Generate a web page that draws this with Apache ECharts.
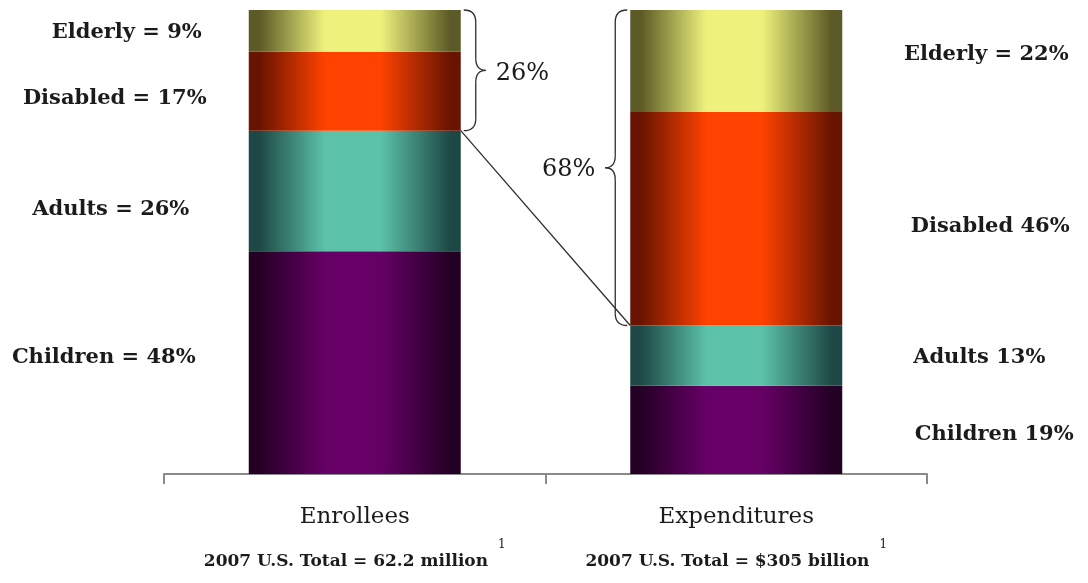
<!DOCTYPE html>
<html>
<head>
<meta charset="utf-8">
<script src="https://cdn.jsdelivr.net/npm/echarts@6/dist/echarts.min.js"></script>
<style>
  html, body { margin: 0; padding: 0; background: #ffffff; }
  #chart { width: 1088px; height: 583px; }
</style>
</head>
<body>
<div id="chart"></div>
<script>
// Medicaid enrollees vs. expenditures by eligibility group, 2007 (percent of total)
const categories = ['Enrollees', 'Expenditures'];
const groups = ['Children', 'Adults', 'Disabled', 'Elderly'];
const enrolleeShare = [48, 26, 17, 9];
const expenditureShare = [19, 13, 46, 22];
const totals = ['2007 U.S. Total = 62.2 million', '2007 U.S. Total = $305 billion'];
const footnoteMark = '1';
// text joining group name and value in the right-hand labels
const expenditureJoin = [' ', ' ', ' ', ' = '];

// ---- styling / layout constants ----
const FONT = '"DejaVu Serif", "Liberation Serif", serif';
const TEXT = '#1b1b1b';
const BAR_W = 212;
const shades = {
  Children: ['#250025', '#660066'],
  Adults:   ['#1e4845', '#5cc2a8'],
  Disabled: ['#681400', '#ff4200'],
  Elderly:  ['#5c5a26', '#eef27c']
};
// label anchor relative to each bar's left edge: [dx, dy]
const leftLabelPos = { Children: [-145, -5], Adults: [-138, 19], Disabled: [-134, 7], Elderly: [-122, 2] };
const rightLabelPos = { Children: [364, 5], Adults: [349, 2], Disabled: [360, 8], Elderly: [356, -6] };

function cylinder(name) {
  const [d, b] = shades[name];
  return {
    type: 'linear', x: 0, y: 0, x2: 1, y2: 0,
    colorStops: [
      { offset: 0, color: d }, { offset: 0.05, color: d },
      { offset: 0.36, color: b }, { offset: 0.62, color: b },
      { offset: 0.95, color: d }, { offset: 1, color: d }
    ]
  };
}

function itemLabel(pos, text) {
  return {
    show: true,
    position: [pos[0], '50%'],
    offset: [0, pos[1]],
    align: 'center',
    verticalAlign: 'middle',
    fontFamily: FONT,
    fontWeight: 'bold',
    fontSize: 21,
    color: TEXT,
    formatter: text
  };
}

const series = groups.map((g, i) => ({
  name: g,
  type: 'bar',
  stack: 'share',
  barWidth: BAR_W,
  itemStyle: { color: cylinder(g) },
  emphasis: { disabled: true },
  data: [
    { value: enrolleeShare[i], label: itemLabel(leftLabelPos[g], `${g} = ${enrolleeShare[i]}%`) },
    { value: expenditureShare[i], label: itemLabel(rightLabelPos[g], `${g}${expenditureJoin[i]}${expenditureShare[i]}%`) }
  ]
}));

const chart = echarts.init(document.getElementById('chart'), null, { renderer: 'canvas' });
chart.setOption({
  animation: false,
  backgroundColor: '#ffffff',
  grid: { left: 164, right: 161, top: 10, bottom: 109, containLabel: false },
  xAxis: {
    type: 'category',
    data: categories,
    axisLine: { lineStyle: { color: '#8a8a8a', width: 2 } },
    axisTick: { show: true, length: 10, lineStyle: { color: '#8a8a8a', width: 2 } },
    axisLabel: {
      margin: 21,
      interval: 0,
      formatter: (v, idx) => `{cat|${v}}\n{note|${totals[idx]}}{sup|${footnoteMark}}`,
      rich: {
        cat: { fontFamily: FONT, fontSize: 23, color: TEXT, lineHeight: 44 },
        note: { fontFamily: FONT, fontSize: 17, fontWeight: 'bold', color: TEXT, lineHeight: 46 },
        sup: { fontFamily: FONT, fontSize: 12, color: TEXT, lineHeight: 18, verticalAlign: 'top', padding: [0, 0, 0, 10] }
      }
    }
  },
  yAxis: { type: 'value', min: 0, max: 100, show: false, splitLine: { show: false } },
  series
});

// Braces grouping Disabled + Elderly, and the connector line between the bars
const sum = (a, from) => a.slice(from).reduce((s, v) => s + v, 0);
const enrTopPair = sum(enrolleeShare, 2);      // Disabled + Elderly among enrollees
const expTopPair = sum(expenditureShare, 2);   // Disabled + Elderly among expenditures
const px = (cat, v) => chart.convertToPixel({ gridIndex: 0 }, [cat, v]);

const STROKE = { stroke: '#2e2e2e', lineWidth: 1.3, fill: null };

function brace(xEdge, yTop, yBot, dir) {
  const x0 = xEdge + dir * 3, xs = xEdge + dir * 15, xt = xEdge + dir * 25;
  const r = 12, ym = (yTop + yBot) / 2;
  return {
    tip: [xt, ym],
    els: [
      { type: 'bezierCurve', shape: { x1: x0, y1: yTop, cpx1: xs, cpy1: yTop, x2: xs, y2: yTop + r }, style: STROKE },
      { type: 'line', shape: { x1: xs, y1: yTop + r, x2: xs, y2: ym - r }, style: STROKE },
      { type: 'bezierCurve', shape: { x1: xs, y1: ym - r, cpx1: xs, cpy1: ym, x2: xt, y2: ym }, style: STROKE },
      { type: 'bezierCurve', shape: { x1: xt, y1: ym, cpx1: xs, cpy1: ym, x2: xs, y2: ym + r }, style: STROKE },
      { type: 'line', shape: { x1: xs, y1: ym + r, x2: xs, y2: yBot - r }, style: STROKE },
      { type: 'bezierCurve', shape: { x1: xs, y1: yBot - r, cpx1: xs, cpy1: yBot, x2: x0, y2: yBot }, style: STROKE }
    ]
  };
}

const eTop = px(categories[0], 100), eLow = px(categories[0], 100 - enrTopPair);
const xTop = px(categories[1], 100), xLow = px(categories[1], 100 - expTopPair);
const enrRight = eTop[0] + BAR_W / 2;
const expLeft = xTop[0] - BAR_W / 2;

const b1 = brace(enrRight, eTop[1], eLow[1], 1);
const b2 = brace(expLeft, xTop[1], xLow[1], -1);

chart.setOption({
  graphic: [
    ...b1.els,
    ...b2.els,
    { type: 'line', shape: { x1: enrRight, y1: eLow[1], x2: expLeft, y2: xLow[1] }, style: STROKE },
    { type: 'text', x: b1.tip[0] + 10, y: b1.tip[1] + 3,
      style: { text: `${enrTopPair}%`, font: `24px ${FONT}`, fill: TEXT, align: 'left', verticalAlign: 'middle' } },
    { type: 'text', x: b2.tip[0] - 10, y: b2.tip[1] + 2,
      style: { text: `${expTopPair}%`, font: `24px ${FONT}`, fill: TEXT, align: 'right', verticalAlign: 'middle' } }
  ]
});
</script>
</body>
</html>
